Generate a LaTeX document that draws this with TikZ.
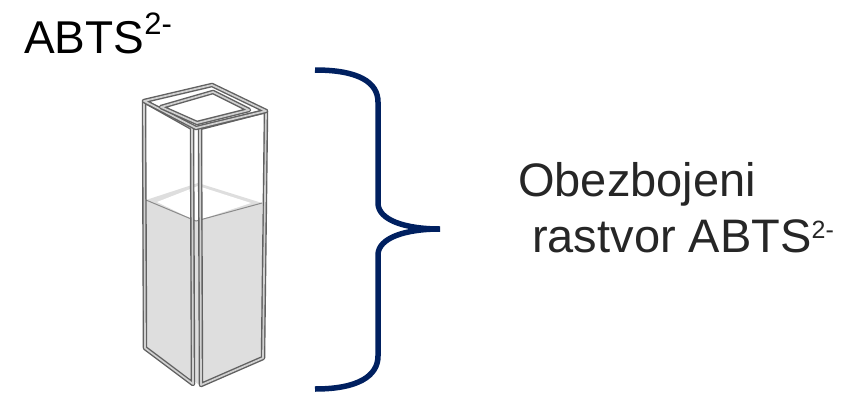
\documentclass[tikz,border=0pt]{standalone}
\usepackage{fontspec}
\setmainfont{Liberation Sans}
\begin{document}
\begin{tikzpicture}[x=1pt,y=-1pt,
  wall/.style={draw=black!62,double=black!18,line width=1.4pt,double distance=1.7pt,line join=round},
  liquid/.style={fill=black!13,draw=none},
  brace/.style={draw=navy,line width=5.5pt},
  label/.style={anchor=base west,inner sep=0pt}]
\definecolor{navy}{HTML}{002060}
\definecolor{txt}{HTML}{262626}
\useasboundingbox (0,0) rectangle (868,394);

% title above the cuvette
\node[label,font=\fontsize{46}{55}\selectfont] (title) at (24,53)
  {ABTS\raisebox{19pt}{\fontsize{31}{31}\selectfont 2-}};

% liquid inside the cuvette
\path[liquid] (146,200) -- (198,183) -- (262,203) -- (262,357) -- (198,384) -- (146,347) -- cycle;
\path[fill=white] (157,202) -- (198,186) -- (251,203) -- (196,221) -- cycle;
\draw[black!45,line width=1pt] (146,200) -- (196,221) -- (262,203);

% cuvette walls
\draw[wall] (144,101) -- (192,128) -- (193,384) -- (145,348) -- cycle;
\draw[wall] (200,128) -- (266,111) -- (263,358) -- (201,385) -- cycle;
% top rim
\draw[wall] (144,101) -- (212,85) -- (266,111) -- (196,128) -- cycle;
\draw[wall] (161,107) -- (213,92) -- (249,110) -- (197,123) -- cycle;

% brace grouping the cuvette
\draw[brace] (315,70) .. controls (358,70) and (378,82) .. (378,102)
  -- (378,203) .. controls (378,220) and (405,229) .. (440,229)
  .. controls (405,229) and (378,238) .. (378,255)
  -- (378,356) .. controls (378,376) and (358,389) .. (315,389);

% description to the right of the brace
\node[label,text=txt,font=\fontsize{47}{56}\selectfont] (desc1) at (518,196) {Obezbojeni};
\node[label,text=txt,font=\fontsize{47}{56}\selectfont] (desc2) at (532,252)
  {rastvor ABTS\raisebox{14pt}{\fontsize{25}{25}\selectfont 2-}};
\end{tikzpicture}
\end{document}
